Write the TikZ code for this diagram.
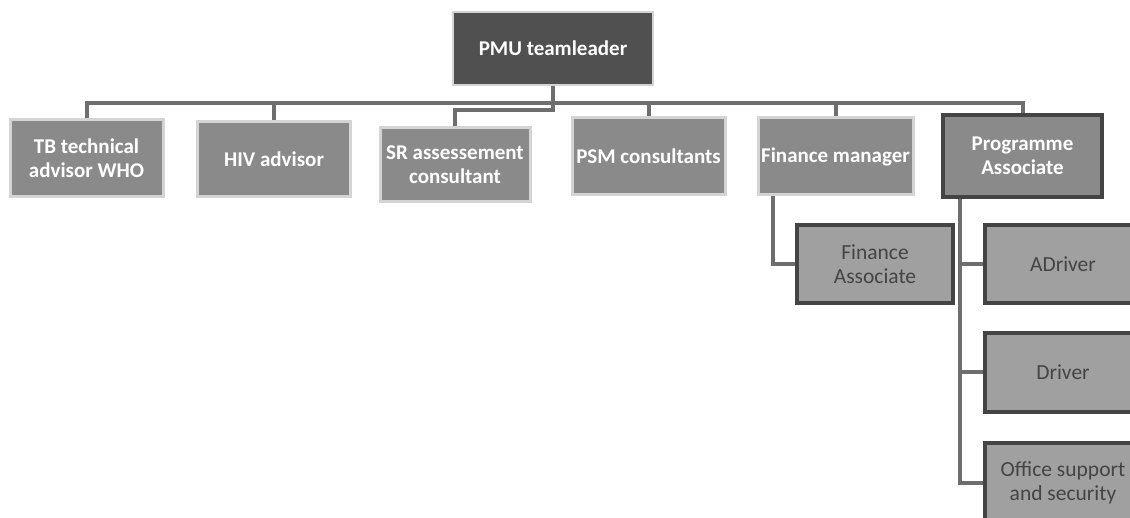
\documentclass[tikz,border=0pt]{standalone}
\usepackage{fontspec}
\setmainfont{Carlito}
\usetikzlibrary{calc}
\usetikzlibrary{positioning}
\definecolor{grey1}	{RGB}{80,80,80}
\definecolor{grey2}	{RGB}{138,138,138}
\definecolor{grey3}	{RGB}{160,160,160}
\definecolor{grey4}	{RGB}{212,212,212}
\definecolor{grey5}	{RGB}{110,110,110}
\definecolor{grey6}	{RGB}{68,68,68}
\tikzset{x=1pt, y=-1pt}
\tikzstyle{unit}=	[rectangle, inner sep=0pt, align=center, minimum height=77pt]
\tikzstyle{chief}=	[unit, fill=grey1, draw=grey4, line width=1.5pt, text=white, font=\fontsize{21}{24}\selectfont\bfseries, minimum width=200pt, minimum height=73pt]
\tikzstyle{staff}=	[unit, fill=grey2, draw=grey4, line width=3pt, text=white, font=\fontsize{21}{24}\selectfont\bfseries, minimum width=153pt]
\tikzstyle{head}=	[staff, draw=grey6, line width=4pt, minimum width=159pt, minimum height=82pt]
\tikzstyle{support}=	[unit, fill=grey3, draw=grey6, line width=3.5pt, text=grey6, font=\fontsize{21.5}{24}\selectfont, minimum width=156pt, minimum height=78pt]
\tikzstyle{conn}=	[draw=grey5, line width=4pt]

\begin{document}
\begin{tikzpicture}
	\useasboundingbox (0,0) rectangle (1130,518);
	\clip (0,0) rectangle (1130,518);

	%%% top
	\node[chief] (lead) at (553,48.5) {PMU teamleader};

	%%% first level
	\node[staff] (tb)  at (86.5,158.5) {TB technical\\advisor WHO};
	\node[staff, minimum height=75pt] (hiv) at (274,159.5) {HIV advisor};
	\node[staff, minimum width=150pt, minimum height=74pt] (sr) at (455,165) {SR assessement\\consultant};
	\node[staff] (psm) at (648.5,156.5) {PSM consultants};
	\node[staff, minimum width=155pt] (fin) at (835.5,156.5) {Finance manager};
	\node[head] (prog) at (1022.5,156) {Programme\\Associate};

	%%% second level
	\node[support] (fass) at (875,264) {Finance\\Associate};
	\node[support] (adrv) at (1063,264) {ADriver};
	\node[support, minimum height=79pt] (drv) at (1063,372.5) {Driver};
	\node[support, minimum height=79pt] (off) at (1063,482.5) {Office support\\and security};

	% bus lines
	\coordinate (bus)   at (0,103);
	\coordinate (srbus) at (0,110);
	\draw[conn] (lead.south) -- (lead.south |- bus);
	\draw[conn] (tb.north) -- (tb.north |- bus) -- (prog.north |- bus) -- (prog.north);
	\draw[conn] (hiv.north) -- (hiv.north |- bus);
	\draw[conn] (psm.north) -- (psm.north |- bus);
	\draw[conn] (fin.north) -- (fin.north |- bus);
	\draw[conn] (lead.south) -- (lead.south |- srbus) -- (sr.north |- srbus) -- (sr.north);

	% finance
	\draw[conn] ([xshift=16pt]fin.south west) |- (fass.west);

	% programme
	\coordinate (pdrop) at ([xshift=19pt]prog.south west);
	\draw[conn] (pdrop) |- (off.west);
	\draw[conn] (adrv.west) -- (pdrop |- adrv.west);
	\draw[conn] (drv.west) -- (pdrop |- drv.west);

\end{tikzpicture}
\end{document}
